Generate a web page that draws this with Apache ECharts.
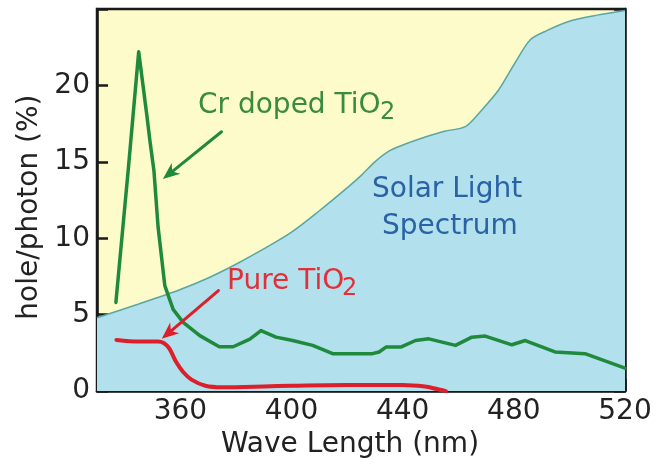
<!DOCTYPE html>
<html>
<head>
<meta charset="utf-8">
<script src="https://cdn.jsdelivr.net/npm/echarts@6/dist/echarts.min.js"></script>
<style>
html,body{margin:0;padding:0;background:#fff;}
#c{width:667px;height:464px;}
</style>
</head>
<body>
<div id="c"></div>
<script>
// ---- data ----
const xTicks = [360, 400, 440, 480, 520];
const yTicks = [0, 5, 10, 15, 20];

const solarNm  = [330, 345, 360, 370, 380, 390, 400, 410, 420, 425, 430, 435, 440, 446, 455, 462.5, 468, 474.5, 480.5, 486, 492, 500, 510, 520];
const solarVal = [4.8, 5.7, 6.65, 7.4, 8.3, 9.3, 10.4, 11.8, 13.3, 14.1, 15.0, 15.7, 16.1, 16.5, 17.0, 17.3, 18.3, 19.7, 21.5, 23.0, 23.6, 24.2, 24.6, 24.9];

const crNm  = [336.8, 341.3, 345, 347.9, 349.1, 350.5, 352, 354.4, 357.4, 361, 367, 374, 379, 385, 389, 394.4, 400.4, 407.6, 414.8, 429.1, 431.5, 434, 439.3, 444.6, 449.4, 459, 464.9, 469.7, 479.3, 484.1, 494.8, 505.6, 520];
const crVal = [5.8, 14.6, 22.2, 18.1, 16.3, 14.4, 10.7, 6.9, 5.35, 4.5, 3.63, 2.9, 2.9, 3.4, 3.96, 3.53, 3.31, 2.99, 2.45, 2.45, 2.56, 2.88, 2.88, 3.31, 3.42, 2.99, 3.53, 3.6, 3.03, 3.31, 2.56, 2.45, 1.5];

const pureNm  = [337, 345, 352, 354, 356, 358.5, 361, 364, 369, 375, 390, 400, 420, 440, 448, 452, 455.5];
const pureVal = [3.35, 3.25, 3.25, 3.15, 2.8, 1.9, 1.25, 0.75, 0.35, 0.25, 0.3, 0.35, 0.4, 0.4, 0.3, 0.15, 0];

// arrows (data coordinates: fromX, fromY, toX, toY)
const crArrow   = [374.8, 16.97, 353.7, 13.87];
const pureArrow = [373.7, 6.58, 353.3, 3.42];

const zip = (a, b) => a.map((v, i) => [v, b[i]]);

const FONT = '"DejaVu Sans", sans-serif';
const AX = '#1a1a1a';
const GREEN = '#1f8a3c';
const RED = '#dc1f2b';

function arrowSeries(arr, color) {
  return {
    type: 'custom', z: 6, silent: true, clip: false,
    data: [arr],
    encode: {x: [0, 2], y: [1, 3]},
    renderItem: function (params, api) {
      const p1 = api.coord([api.value(0), api.value(1)]);
      const p2 = api.coord([api.value(2), api.value(3)]);
      const dx = p2[0] - p1[0], dy = p2[1] - p1[1];
      const len = Math.sqrt(dx * dx + dy * dy);
      const ux = dx / len, uy = dy / len;
      const nx = -uy, ny = ux;
      const L = 17, W = 7, N = 12;
      const back = [p2[0] - ux * L, p2[1] - uy * L];
      const notch = [p2[0] - ux * N, p2[1] - uy * N];
      return {
        type: 'group',
        children: [{
          type: 'line',
          shape: {x1: p1[0], y1: p1[1], x2: notch[0], y2: notch[1]},
          style: {stroke: color, lineWidth: 3, lineCap: 'round'}
        }, {
          type: 'polygon',
          shape: {points: [
            p2,
            [back[0] + nx * W, back[1] + ny * W],
            notch,
            [back[0] - nx * W, back[1] - ny * W]
          ]},
          style: {fill: color}
        }]
      };
    }
  };
}

const chart = echarts.init(document.getElementById('c'), null, {renderer: 'canvas'});

chart.setOption({
  animation: false,
  backgroundColor: '#ffffff',
  grid: {
    left: 97, right: 42, top: 9, bottom: 71,
    show: true, backgroundColor: '#fdfbca', borderColor: AX, borderWidth: 2.5
  },
  xAxis: [{
    type: 'value', min: 330, max: 520,
    name: 'Wave Length (nm)', nameLocation: 'middle', nameGap: 34,
    nameTextStyle: {fontFamily: FONT, fontSize: 28, color: '#222', padding: [0, 22, 0, 0]},
    axisLine: {show: true, lineStyle: {color: AX, width: 2.5}},
    axisTick: {show: true, inside: true, length: 12, customValues: xTicks, lineStyle: {color: AX, width: 2.5}},
    axisLabel: {show: true, customValues: xTicks, fontFamily: FONT, fontSize: 28, color: '#222', margin: 7},
    splitLine: {show: false}
  }],
  yAxis: [{
    type: 'value', min: 0, max: 25, interval: 5, position: 'left',
    name: 'hole/photon (%)', nameLocation: 'middle', nameGap: 41,
    nameTextStyle: {fontFamily: FONT, fontSize: 28, color: '#222', padding: [0, 14, 0, 0]},
    axisLine: {show: true, lineStyle: {color: AX, width: 2.5}},
    axisTick: {show: true, inside: true, length: 11, lineStyle: {color: AX, width: 2.5}},
    axisLabel: {show: true, customValues: yTicks, fontFamily: FONT, fontSize: 28, color: '#222', margin: 7},
    splitLine: {show: false}
  }, {
    type: 'value', min: 0, max: 25, interval: 5, position: 'right',
    axisLine: {show: true, lineStyle: {color: AX, width: 2.5}},
    axisTick: {show: true, inside: true, length: 11, lineStyle: {color: AX, width: 2.5}},
    axisLabel: {show: false},
    splitLine: {show: false}
  }],
  series: [{
    name: 'Solar Light Spectrum', type: 'line', z: 1,
    data: zip(solarNm, solarVal), smooth: 0.3, symbol: 'none',
    lineStyle: {color: '#5aa6a4', width: 1.5},
    areaStyle: {color: '#b2e0ec', opacity: 1, origin: 'start'},
    silent: true
  }, {
    name: 'Cr doped TiO2', type: 'line', z: 4,
    data: zip(crNm, crVal), smooth: false, symbol: 'none',
    lineStyle: {color: GREEN, width: 3.5, join: 'round', cap: 'round'},
    silent: true
  }, {
    name: 'Pure TiO2', type: 'line', z: 3,
    data: zip(pureNm, pureVal), smooth: 0.3, symbol: 'none',
    lineStyle: {color: RED, width: 4, join: 'round', cap: 'round'},
    silent: true
  },
  arrowSeries(crArrow, GREEN),
  arrowSeries(pureArrow, RED)
  ],
  graphic: [
    {type: 'text', x: 198, y: 106, z: 100, style: {text: 'Cr doped TiO', font: '28px ' + FONT, fill: '#3a8a40', verticalAlign: 'middle', align: 'left'}},
    {type: 'text', x: 380, y: 113, z: 100, style: {text: '2', font: '24px ' + FONT, fill: '#3a8a40', verticalAlign: 'middle', align: 'left'}},
    {type: 'text', x: 227, y: 282, z: 100, style: {text: 'Pure TiO', font: '28px ' + FONT, fill: '#e0303a', verticalAlign: 'middle', align: 'left'}},
    {type: 'text', x: 342, y: 289, z: 100, style: {text: '2', font: '24px ' + FONT, fill: '#e0303a', verticalAlign: 'middle', align: 'left'}},
    {type: 'text', x: 372, y: 190, z: 100, style: {text: 'Solar Light', font: '28px ' + FONT, fill: '#2a62a6', verticalAlign: 'middle', align: 'left'}},
    {type: 'text', x: 382, y: 227, z: 100, style: {text: 'Spectrum', font: '28px ' + FONT, fill: '#2a62a6', verticalAlign: 'middle', align: 'left'}}
  ]
});
</script>
</body>
</html>
